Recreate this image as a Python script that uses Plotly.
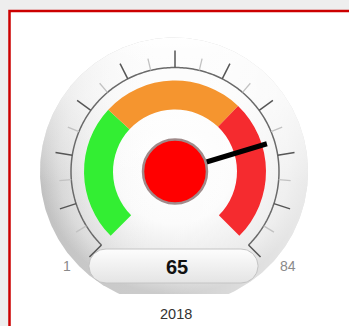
import numpy as np
import plotly.graph_objects as go

# ---- gauge data -------------------------------------------------------------
gauge_min = 1
gauge_max = 84
gauge_value = 65
gauge_label = "2018"
band_edges = [1, 28, 56, 84]
band_colors = ["#33ee33", "#f5952f", "#f52b2f"]
major_tick_count = 11
minor_per_major = 2          # one minor tick between majors

# ---- geometry (pixels) ------------------------------------------------------
W, H = 349, 326
CX, CY = 175, 171.5          # dial centre, measured from the top-left corner
HALF = 130                   # half size of the polar domain = radial range
SWEEP = 270                  # angular span of the dial in degrees

R_ARC = 104
R_BAND_IN, R_BAND_OUT = 62, 91
MAJOR_LEN, MINOR_LEN = 17, 12
R_NEEDLE = 96


def to_deg(v):
    """Map a gauge value onto the dial angle (0 = start of sweep)."""
    return (np.asarray(v, dtype=float) - gauge_min) / (gauge_max - gauge_min) * SWEEP


fig = go.Figure()

# ---- dial face: soft grey disc with a flat bottom (cartesian, pixel units) ---
t = np.linspace(0, 2 * np.pi, 361)
R_FACE = 134
fx = CX - 1 + R_FACE * np.cos(t)
fy = CY + R_FACE * np.sin(t)
fy = np.minimum(fy, 294)
face_common = dict(x=fx, y=fy, mode="lines", fill="toself",
                   line=dict(width=0), hoverinfo="skip", showlegend=False)
fig.add_trace(go.Scatter(
    **face_common,
    fillgradient=dict(type="radial",
                      colorscale=[[0, "#ffffff"], [0.45, "#fbfbfb"],
                                  [0.7, "#ebebeb"], [0.86, "#e0e0e0"],
                                  [1, "#cbcbcb"]])))
# light coming from the upper right
fig.add_trace(go.Scatter(
    **face_common,
    fillgradient=dict(type="vertical", start=37, stop=185,
                      colorscale=[[0, "rgba(255,255,255,1)"],
                                  [0.4, "rgba(255,255,255,0.8)"],
                                  [1, "rgba(255,255,255,0)"]])))
fig.add_trace(go.Scatter(
    **face_common,
    fillgradient=dict(type="horizontal", start=40, stop=310,
                      colorscale=[[0, "rgba(0,0,0,0.05)"],
                                  [0.45, "rgba(255,255,255,0)"],
                                  [1, "rgba(255,255,255,0.6)"]])))

# ---- value box (pill) -------------------------------------------------------
bx0, bx1, by0, by1 = 89, 258, 249, 283
rr = (by1 - by0) / 2
ymid = (by0 + by1) / 2
a = np.linspace(-np.pi / 2, np.pi / 2, 40)
px = np.concatenate([bx1 - rr + rr * np.cos(a), bx0 + rr - rr * np.cos(a[::-1])])
py = np.concatenate([ymid + rr * np.sin(a), ymid + rr * np.sin(a[::-1])])
px = np.append(px, px[0])
py = np.append(py, py[0])
fig.add_trace(go.Scatter(
    x=px, y=py, mode="lines", fill="toself",
    line=dict(color="#c4c4c4", width=1),
    fillgradient=dict(type="vertical", start=by0, stop=by1,
                      colorscale=[[0, "#fdfdfd"], [1, "#e4e4e4"]]),
    hoverinfo="skip", showlegend=False))

# ---- polar gauge ------------------------------------------------------------
pol = dict(subplot="polar", hoverinfo="skip", showlegend=False)

# coloured bands
for lo, hi, col in zip(band_edges[:-1], band_edges[1:], band_colors):
    fig.add_trace(go.Barpolar(
        theta=[float(to_deg((lo + hi) / 2))],
        width=[float(to_deg(hi) - to_deg(lo))],
        base=[R_BAND_IN], r=[R_BAND_OUT - R_BAND_IN],
        marker=dict(color=col, line=dict(width=0)), **pol))

# scale arc
arc_theta = np.linspace(0, SWEEP, 271)
fig.add_trace(go.Scatterpolar(theta=arc_theta, r=np.full_like(arc_theta, R_ARC),
                              mode="lines", line=dict(color="#6a6a6a", width=1.5), **pol))

# ticks
all_ticks = np.linspace(gauge_min, gauge_max, (major_tick_count - 1) * minor_per_major + 1)
majors = all_ticks[::minor_per_major]
minors = all_ticks[1::minor_per_major]


def tick_segments(vals, length):
    th, rr_ = [], []
    for v in vals:
        d = float(to_deg(v))
        th += [d, d, None]
        rr_ += [R_ARC, R_ARC + length, None]
    return th, rr_


th, rs = tick_segments(minors, MINOR_LEN)
fig.add_trace(go.Scatterpolar(theta=th, r=rs, mode="lines",
                              line=dict(color="#c2c2c2", width=1.3), **pol))
th, rs = tick_segments(majors, MAJOR_LEN)
fig.add_trace(go.Scatterpolar(theta=th, r=rs, mode="lines",
                              line=dict(color="#555555", width=1.5), **pol))

# needle
needle_deg = float(to_deg(gauge_value))
fig.add_trace(go.Scatterpolar(theta=[needle_deg, needle_deg], r=[0, R_NEEDLE],
                              mode="lines", line=dict(color="#000000", width=5), **pol))

# hub
fig.add_trace(go.Scatterpolar(theta=[0], r=[0], mode="markers",
                              marker=dict(size=64, color="#ff0000",
                                          line=dict(color="#a08a8a", width=2.5)), **pol))

# ---- layout -----------------------------------------------------------------
fig.update_layout(
    width=W, height=H,
    margin=dict(l=0, r=0, t=0, b=0),
    paper_bgcolor="#eeeeee",
    plot_bgcolor="rgba(0,0,0,0)",
    showlegend=False,
    xaxis=dict(range=[0, W], domain=[0, 1], visible=False, fixedrange=True),
    yaxis=dict(range=[H, 0], domain=[0, 1], visible=False, fixedrange=True),
    polar=dict(
        domain=dict(x=[(CX - HALF) / W, (CX + HALF) / W],
                    y=[(H - CY - HALF) / H, (H - CY + HALF) / H]),
        bgcolor="rgba(0,0,0,0)",
        radialaxis=dict(range=[0, HALF], showline=False, showgrid=False,
                        showticklabels=False, ticks=""),
        angularaxis=dict(rotation=225, direction="clockwise",
                         showline=False, showgrid=False,
                         showticklabels=False, ticks=""),
    ),
    shapes=[dict(type="rect", xref="paper", yref="paper", layer="below",
                 x0=9.5 / W, x1=1.05, y0=-0.05, y1=1 - 11 / H,
                 line=dict(color="#cc0000", width=2.5), fillcolor="#ffffff")],
    annotations=[
        dict(text=f"<b>{gauge_value}</b>", x=176.5, y=266.5, xref="x", yref="y",
             showarrow=False, font=dict(family="Liberation Sans, Arial", size=20, color="#111111")),
        dict(text=str(gauge_min), x=67, y=266, xref="x", yref="y", showarrow=False,
             font=dict(family="Liberation Sans, Arial", size=14, color="#8a8a8a")),
        dict(text=str(gauge_max), x=287.5, y=266, xref="x", yref="y", showarrow=False,
             font=dict(family="Liberation Sans, Arial", size=14, color="#8a8a8a")),
        dict(text=gauge_label, x=176, y=313.5, xref="x", yref="y", showarrow=False,
             font=dict(family="Liberation Sans, Arial", size=14.5, color="#333333")),
    ],
)

fig.write_html("out.html", config={"displayModeBar": False, "staticPlot": True})
